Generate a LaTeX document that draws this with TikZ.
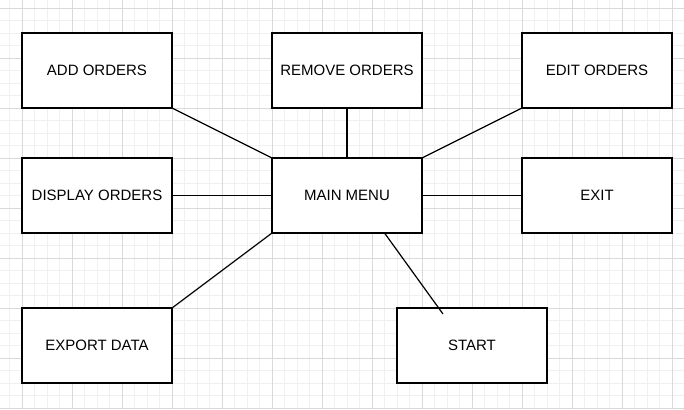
\documentclass[tikz,border=0pt]{standalone}
\usepackage{fontspec}
\setmainfont{Liberation Sans}
\usetikzlibrary{calc}
\tikzset{
    block/.style = {draw, rectangle, fill=white, line width=1.2pt,
        minimum height=75pt, minimum width=150pt,
        inner sep=0pt, outer sep=0pt, align=center,
        font=\fontsize{15}{18}\selectfont},
    link/.style = {draw, line width=1.2pt},
    minorgrid/.style = {draw=black!6, line width=0.8pt},
    majorgrid/.style = {draw=black!15, line width=0.8pt}
}

\begin{document}
\begin{tikzpicture}[node distance=250pt]
    \useasboundingbox (-347pt,-213.5pt) rectangle (337pt,195.5pt);
    \fill [white] (-347pt,-213.5pt) rectangle (337pt,195.5pt);
    \draw [minorgrid, step=12.5pt] (-347pt,-213.5pt) grid (337pt,195.5pt);
    \draw [majorgrid, step=50pt, shift={(25pt,-12.5pt)}] (-372pt,-201pt) grid (312pt,208pt);
    \node [block] (main) {MAIN MENU};
    \node [block, left of=main] (display) {DISPLAY ORDERS};
    \node [block, right of=main] (exit) {EXIT};
    \node [block, above of=main, node distance=125pt] (remove) {REMOVE ORDERS};
    \node [block, left of=remove] (add) {ADD ORDERS};
    \node [block, right of=remove] (edit) {EDIT ORDERS};
    \node [block, below of=display, node distance=150pt] (export) {EXPORT DATA};
    \node [block, below of=main, node distance=150pt, xshift=125pt] (start) {START};
    \coordinate (startend) at ([xshift=-29pt,yshift=-6pt]start.north);
    \draw [link] (add.south east) -- (main.north west);
    \draw [link] (remove) -- (main);
    \draw [link] (edit.south west) -- (main.north east);
    \draw [link] (display) -- (main);
    \draw [link] (exit) -- (main);
    \draw [link] (export.north east) -- (main.south west);
    \draw [link] ([xshift=37.5pt]main.south) -- (startend);
\end{tikzpicture}
\end{document}
